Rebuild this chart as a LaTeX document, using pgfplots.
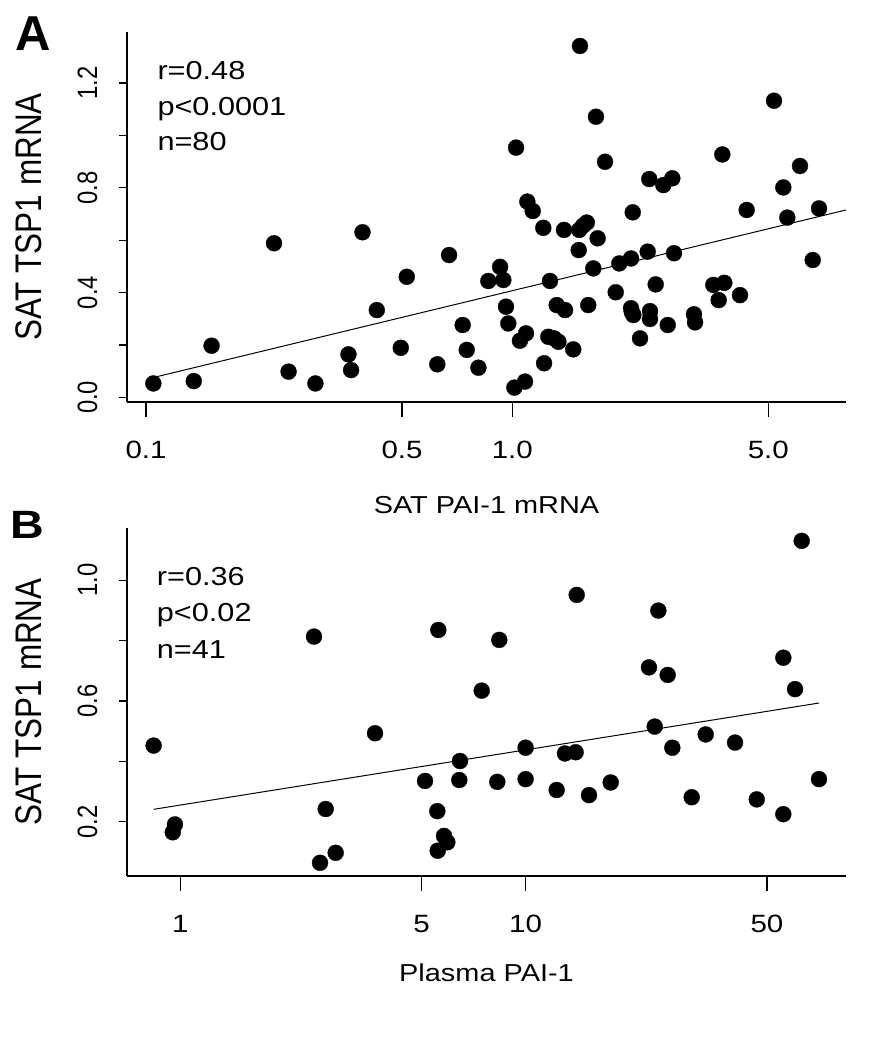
\documentclass[border=0pt]{standalone}
\usepackage{fontspec}
\setmainfont{Liberation Sans}
\newfontfamily\hfont{Liberation Sans}[FakeStretch=1.18]
\newfontfamily\vfont{Liberation Sans}[FakeStretch=0.85]
\usepackage{pgfplots}
\pgfplotsset{compat=1.18}
\pgfplotsset{
  mypanel/.style={
    scale only axis, width=719pt, clip=false,
    axis x line*=bottom, axis y line*=left,
    axis line style={line width=1.3pt,-},
    tick align=outside,
    major tick length=8pt, minor tick length=7pt,
    tick style={line width=1.2pt, black},
    xtick=\empty,
    extra x tick style={major tick length=15pt},
    xticklabel style={font=\hfont\fontsize{25}{25}\selectfont, inner sep=0pt, anchor=base, yshift=-41pt},
    yticklabel style={font=\vfont\fontsize{28}{28}\selectfont, inner sep=0pt, xshift=-22pt, rotate=90, anchor=base},
    xlabel style={font=\hfont\fontsize{24.5}{24.5}\selectfont, inner sep=0pt, anchor=base},
    ylabel style={font=\vfont\fontsize{37}{37}\selectfont, inner sep=0pt, anchor=base, at={(axis description cs:-0.1196,0.5)}},
  },
  dots/.style={only marks, mark=*, mark size=8pt, mark options={black, fill=black, line width=0.3pt}},
  fit/.style={no marks, black, line width=1pt},
}
\begin{document}
\begin{tikzpicture}[x=1pt,y=1pt]
\useasboundingbox (0,0) rectangle (869,-1050);
% Panel A
\begin{axis}[xmode=log, mypanel,
  at={(127pt,-402pt)}, anchor=south west, height=370pt,
  xmin=0.08872, xmax=8.147, ymin=-0.0179, ymax=1.3943,
  extra x ticks={0.1,0.5,1,5}, extra x tick labels={0.1,0.5,1.0,5.0},
  minor xtick={0.2,0.3,0.4,0.6,0.7,0.8,0.9,2,3,4},
  ytick={0,0.2,0.4,0.6,0.8,1.0,1.2}, yticklabels={0.0,,0.4,,0.8,,1.2},
  xlabel={SAT PAI-1 mRNA}, ylabel={SAT TSP1 mRNA},
  xlabel style={at={(axis description cs:0.5,-0.3008)}},
]
\addplot[dots] table {
x y
0.1047 0.053
0.135 0.062
0.151 0.197
0.2236 0.588
0.245 0.098
0.290 0.053
0.357 0.164
0.363 0.104
0.390 0.630
0.4266 0.333
0.515 0.460
0.496 0.189
0.624 0.126
0.672 0.543
0.732 0.276
0.751 0.181
0.808 0.113
0.860 0.444
0.926 0.498
0.945 0.448
0.961 0.346
0.975 0.282
1.024 0.953
1.013 0.037
1.083 0.060
1.049 0.216
1.090 0.244
1.099 0.747
1.137 0.711
1.215 0.647
1.221 0.130
1.267 0.444
1.254 0.231
1.322 0.352
1.336 0.212
1.384 0.639
1.393 0.333
1.467 0.183
1.518 0.562
1.530 1.341
1.524 0.639
1.597 0.667
1.612 0.352
1.664 0.492
1.692 1.071
1.710 0.607
1.791 0.899
1.916 0.401
1.959 0.511
2.109 0.530
2.132 0.706
2.109 0.340
2.140 0.314
2.232 0.225
2.342 0.556
2.366 0.833
2.376 0.329
2.376 0.299
2.463 0.431
2.584 0.810
2.734 0.836
2.657 0.276
2.764 0.550
3.133 0.317
3.154 0.286
3.538 0.429
3.660 0.371
3.792 0.437
3.744 0.927
4.184 0.390
4.364 0.715
5.182 1.132
5.494 0.801
5.634 0.686
6.101 0.883
6.609 0.524
6.877 0.721
1.560 0.655
1.300 0.225
2.120 0.325
};
\addplot[fit] coordinates {(0.105,0.076) (8.147,0.715)};
\end{axis}
% Panel B
\begin{axis}[xmode=log, mypanel,
  at={(127pt,-876pt)}, anchor=south west, height=347.7pt,
  xmin=0.7009, xmax=84.7, ymin=0.0202, ymax=1.1715,
  extra x ticks={1,5,10,50}, extra x tick labels={1,5,10,50},
  minor xtick={2,3,4,6,7,8,9,20,30,40,60,70},
  ytick={0.2,0.4,0.6,0.8,1.0}, yticklabels={0.2,,0.6,,1.0},
  xlabel={Plasma PAI-1}, ylabel={SAT TSP1 mRNA},
  xlabel style={at={(axis description cs:0.5,-0.304)}},
]
\addplot[dots] table {
x y
0.837 0.452
0.965 0.191
0.951 0.165
2.439 0.813
2.636 0.242
2.539 0.064
2.818 0.097
3.664 0.493
5.113 0.335
5.551 0.235
5.588 0.835
5.565 0.104
5.803 0.153
5.934 0.132
6.457 0.401
6.427 0.338
7.463 0.634
8.390 0.802
8.279 0.332
10.0 0.445
10.0 0.341
12.30 0.305
13.0 0.426
13.96 0.430
14.06 0.951
15.26 0.288
17.64 0.330
22.76 0.711
23.65 0.515
24.23 0.899
25.79 0.686
26.60 0.445
30.27 0.281
33.24 0.489
40.42 0.462
46.70 0.274
55.76 0.743
55.76 0.225
60.29 0.639
63.03 1.130
70.75 0.341
};
\addplot[fit] coordinates {(0.837,0.241) (70.75,0.593)};
\end{axis}
% annotations
\begin{scope}[every node/.style={inner sep=0pt, anchor=base west, font=\hfont\fontsize{26}{26}\selectfont}]
\node at (157.3,-79.3) {r=0.48};
\node at (157.3,-115) {p<0.0001};
\node at (157.3,-150.7) {n=80};
\node at (156.7,-585) {r=0.36};
\node at (156.7,-621.7) {p<0.02};
\node at (156.7,-658.3) {n=41};
\end{scope}
\node[inner sep=0pt, anchor=base west, font=\bfseries\fontsize{49}{49}\selectfont] at (15.5,-50) {A};
\node[inner sep=0pt, anchor=base west, font=\hfont\bfseries\fontsize{39.5}{39.5}\selectfont] at (9.8,-538.3) {B};
\end{tikzpicture}
\end{document}
